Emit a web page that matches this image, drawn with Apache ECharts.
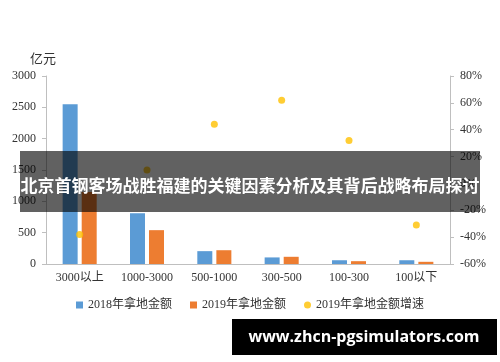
<!DOCTYPE html>
<html><head><meta charset="utf-8">
<script src="https://cdn.jsdelivr.net/npm/echarts@6/dist/echarts.min.js"></script>
<style>html,body{margin:0;padding:0;background:#fff}#c{width:500px;height:362px}</style>
</head><body><div id="c"></div>
<script>
const categories = ['3000以上', '1000-3000', '500-1000', '300-500', '100-300', '100以下'];
const amount2018 = [2550, 810, 205, 105, 60, 60];
const amount2019 = [1150, 540, 220, 115, 45, 35];
const growth2019 = [-38, 10, 44, 62, 32, -31];
const leftTicks = { min: 0, max: 3000, interval: 500 };
const rightTicks = { min: -60, max: 80, interval: 20 };
const unitLabel = '亿元';
const bannerText = '北京首钢客场战胜福建的关键因素分析及其背后战略布局探讨';
const watermarkText = 'www.zhcn-pgsimulators.com';

const numFont = '"Liberation Serif", "Noto Sans CJK SC", serif';
const cjkFont = '"Liberation Serif", "Noto Sans CJK SC", sans-serif';
const chart = echarts.init(document.getElementById('c'), null, { renderer: 'canvas' });
chart.setOption({
  backgroundColor: '#fff',
  animation: false,
  grid: { left: 46, right: 50, top: 76, bottom: 98 },
  title: {
    text: unitLabel, left: 25, top: 47,
    textStyle: { fontSize: 13, fontWeight: 'normal', color: '#333', fontFamily: '"Noto Sans CJK SC", sans-serif' }
  },
  legend: {
    bottom: 46, left: 'center', itemGap: 18, itemWidth: 7, itemHeight: 7,
    textStyle: { fontSize: 12, color: '#333', fontFamily: cjkFont },
    data: [
      { name: '2018年拿地金额', icon: 'rect' },
      { name: '2019年拿地金额', icon: 'rect' },
      { name: '2019年拿地金额增速', icon: 'circle' }
    ]
  },
  xAxis: {
    type: 'category', data: categories,
    axisLine: { lineStyle: { color: '#bfbfbf' } },
    axisTick: { show: false },
    axisLabel: { color: '#333', fontSize: 12, margin: 8, fontFamily: cjkFont, interval: 0 }
  },
  yAxis: [
    {
      type: 'value', min: leftTicks.min, max: leftTicks.max, interval: leftTicks.interval,
      axisLine: { show: true, lineStyle: { color: '#bfbfbf' } },
      axisTick: { show: true, length: 4, lineStyle: { color: '#bfbfbf' } },
      splitLine: { show: false },
      axisLabel: { color: '#333', fontSize: 12, margin: 10, fontFamily: numFont, formatter: v => String(v) }
    },
    {
      type: 'value', min: rightTicks.min, max: rightTicks.max, interval: rightTicks.interval,
      axisLine: { show: true, lineStyle: { color: '#bfbfbf' } },
      axisTick: { show: true, length: 4, lineStyle: { color: '#bfbfbf' } },
      splitLine: { show: false },
      axisLabel: { color: '#333', fontSize: 12, margin: 10, fontFamily: numFont, formatter: '{value}%' }
    }
  ],
  series: [
    { name: '2018年拿地金额', type: 'bar', data: amount2018, barWidth: 15, barGap: '27%', itemStyle: { color: '#5B9BD5' } },
    { name: '2019年拿地金额', type: 'bar', data: amount2019, barWidth: 15, itemStyle: { color: '#ED7D31' } },
    { name: '2019年拿地金额增速', type: 'scatter', yAxisIndex: 1, data: growth2019, symbolSize: 7, itemStyle: { color: '#FFC000' } }
  ],
  graphic: [
    { type: 'rect', z: 100, shape: { x: 20, y: 151, width: 460, height: 61 }, style: { fill: 'rgba(0,0,0,0.62)' } },
    { type: 'text', z: 101, x: 250, y: 186, style: { text: bannerText, fill: '#fff', fontSize: 17, fontWeight: 'bold', fontFamily: '"Noto Sans CJK SC", sans-serif', textAlign: 'center', textVerticalAlign: 'middle' } },
    { type: 'rect', z: 100, shape: { x: 232, y: 319, width: 265, height: 36 }, style: { fill: '#000' } },
    { type: 'text', z: 101, x: 364, y: 337, style: { text: watermarkText, fill: '#fff', fontSize: 16, fontWeight: 'bold', fontFamily: '"Open Sans", sans-serif', textAlign: 'center', textVerticalAlign: 'middle' } }
  ]
});
</script></body></html>
